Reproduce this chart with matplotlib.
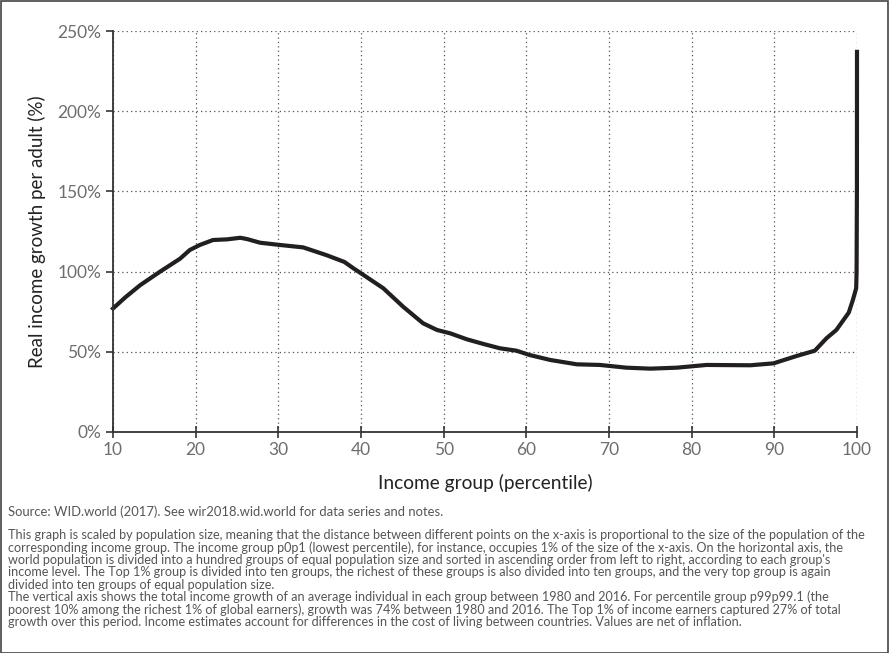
import matplotlib
matplotlib.use("Agg")
import matplotlib.pyplot as plt
from matplotlib.patches import Rectangle

plt.rcParams['font.family'] = ['Lato', 'DejaVu Sans']

# percentile position on the (population-scaled) x axis and total growth 1980-2016 (%)
percentile = [10, 11.5, 13.3, 15.7, 18.1, 19.3, 20.5, 22.1, 23.8, 25.4, 26.2, 27.8,
              30.2, 33.0, 35.8, 38.0, 39.1, 40.3, 42.7, 45.1, 47.5, 49.2, 50.8, 52.8,
              54.8, 56.8, 58.8, 60.4, 62.9, 66.1, 68.9, 72.1, 75.0, 78.2, 81.8, 87.1,
              89.9, 92.7, 94.9, 96.3, 97.5, 99.0, 99.5, 99.9, 99.95, 99.99, 100]
growth = [77, 84, 91.6, 100, 108, 113.5, 116.6, 119.7, 120.1, 121.1, 120.3, 118,
          116.6, 115.1, 110.3, 106, 102, 97.9, 89.6, 78.1, 67.8, 63.6, 61.5, 57.8,
          54.9, 52.2, 50.7, 48, 44.9, 42.2, 41.8, 40.1, 39.5, 40.1, 41.8, 41.6,
          42.8, 47.4, 50.7, 58.4, 63.6, 74.4, 82.3, 89.6, 100, 150, 237]

xticks = [10, 20, 30, 40, 50, 60, 70, 80, 90, 100]
yticks = [0, 50, 100, 150, 200, 250]

source = "Source: WID.world (2017). See wir2018.wid.world for data series and notes."
notes = [
    "This graph is scaled by population size, meaning that the distance between different points on the x-axis is proportional to the size of the population of the",
    "corresponding income group. The income group p0p1 (lowest percentile), for instance, occupies 1% of the size of the x-axis. On the horizontal axis, the",
    "world population is divided into a hundred groups of equal population size and sorted in ascending order from left to right, according to each group's",
    "income level. The Top 1% group is divided into ten groups, the richest of these groups is also divided into ten groups, and the very top group is again",
    "divided into ten groups of equal population size.",
    "The vertical axis shows the total income growth of an average individual in each group between 1980 and 2016. For percentile group p99p99.1 (the",
    "poorest 10% among the richest 1% of global earners), growth was 74% between 1980 and 2016. The Top 1% of income earners captured 27% of total",
    "growth over this period. Income estimates account for differences in the cost of living between countries. Values are net of inflation.",
]

fig = plt.figure(figsize=(8.89, 6.53), dpi=100)
ax = fig.add_axes([113 / 889, 1 - 432 / 653, (857 - 113) / 889, (432 - 31) / 653])

ax.plot(percentile, growth, color='#231f20', lw=3.0, solid_joinstyle='round', clip_on=False)

ax.set_xlim(10, 100)
ax.set_ylim(0, 250)
ax.set_xticks(xticks)
ax.set_yticks(yticks)
ax.set_yticklabels([f"{v}%" for v in yticks])
ax.grid(True, color='#555555', lw=0.9, linestyle=(0, (1, 2.5)))
ax.set_axisbelow(True)
for s in ['top', 'right']:
    ax.spines[s].set_visible(False)
for s in ['left', 'bottom']:
    ax.spines[s].set_color('#333333')
    ax.spines[s].set_linewidth(1.3)
ax.tick_params(axis='both', colors='#333333', labelcolor='#6e6e6e', labelsize=12.5,
               length=5, width=1.2)
ax.tick_params(axis='x', direction='inout', length=8, pad=3)
ax.set_xlabel("Income group (percentile)", fontsize=13.8, color='#222222', labelpad=12)
ax.set_ylabel("Real income growth per adult (%)", fontsize=13.5, color='#222222', labelpad=8)

fig.text(8 / 889, 1 - 512 / 653, source, fontsize=9.4, color='#555555', va='center')
for i, line in enumerate(notes):
    fig.text(8 / 889, 1 - (535 + i * 12.4) / 653, line, fontsize=9.1, color='#555555',
             va='center')

fig.patches.append(Rectangle((0.5 / 889, 0.5 / 653), 887.5 / 889, 651.5 / 653,
                             transform=fig.transFigure, fill=False, ec='#444444', lw=1.2))

fig.savefig("out.png", dpi=100)
